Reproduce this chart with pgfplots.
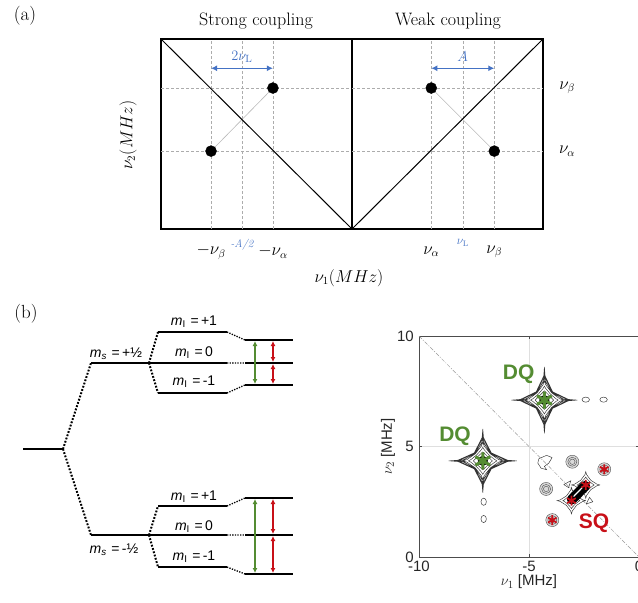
\documentclass[border=0pt]{standalone}
\usepackage{fontspec}
\usepackage{pgfplots}
\pgfplotsset{compat=1.18}
\usetikzlibrary{arrows.meta}
\newfontfamily\arial{Liberation Sans}
\definecolor{myblue}{RGB}{68,114,196}
\definecolor{mygreen}{RGB}{84,140,50}
\definecolor{myred}{RGB}{200,16,24}
\begin{document}
\begin{tikzpicture}
\path[use as bounding box] (0pt,0pt) rectangle (638pt,-603pt);
% ---------- global pixel frame: texts of (a) and the level diagram of (b)
\begin{axis}[at={(0pt,-603pt)},anchor=south west,scale only axis,width=638pt,height=603pt,
  xmin=0,xmax=638,ymin=0,ymax=603,y dir=reverse,hide axis,clip=false]
\node[font=\fontsize{19}{22}\selectfont] at (axis cs:25,16) {(a)};
\node[font=\fontsize{18}{21}\selectfont] at (axis cs:256,21) {Strong coupling};
\node[font=\fontsize{18}{21}\selectfont] at (axis cs:448,21) {Weak coupling};
\node[rotate=90,font=\fontsize{16}{19}\selectfont] at (axis cs:128,135) {$\nu_2(MHz)$};
\node[font=\fontsize{16}{19}\selectfont] at (axis cs:349,278) {$\nu_1(MHz)$};
\node[font=\fontsize{19}{22}\selectfont] at (axis cs:26,314) {(b)};
% energy levels
\addplot[black,line width=2pt,unbounded coords=jump] coordinates {
 (23,449)(63,449) (nan,nan) (91,363)(227,363) (nan,nan) (158,332)(227,332) (nan,nan)
 (158,393)(227,393) (nan,nan) (245,340)(293,340) (nan,nan) (245,363)(293,363) (nan,nan)
 (245,385)(293,385) (nan,nan) (91,535)(227,535) (nan,nan) (158,506)(227,506) (nan,nan)
 (158,567)(227,567) (nan,nan) (245,498)(293,498) (nan,nan) (245,535)(293,535) (nan,nan)
 (245,574)(293,574)};
% dotted connectors
\addplot[black,line width=2pt,dash pattern=on 1.8pt off 1.6pt,unbounded coords=jump] coordinates {
 (63,449)(91,363) (nan,nan) (63,449)(91,535) (nan,nan) (149,363)(158,332) (nan,nan)
 (149,363)(158,393) (nan,nan) (149,535)(158,506) (nan,nan) (149,535)(158,567)};
\addplot[black,line width=1.3pt,dash pattern=on 1.3pt off 1.3pt,unbounded coords=jump] coordinates {
 (227,332)(245,340) (nan,nan) (227,363)(245,363) (nan,nan) (227,393)(245,385) (nan,nan)
 (227,506)(245,498) (nan,nan) (227,535)(245,535) (nan,nan) (227,567)(245,574)};
% transitions
\addplot[mygreen,line width=1.5pt,arrows={Latex[length=5pt,width=5pt]-Latex[length=5pt,width=5pt]}] coordinates {(255,341)(255,384)};
\addplot[mygreen,line width=1.5pt,arrows={Latex[length=5pt,width=5pt]-Latex[length=5pt,width=5pt]}] coordinates {(255,499)(255,573)};
\addplot[myred,line width=1.5pt,arrows={Latex[length=5pt,width=5pt]-Latex[length=5pt,width=5pt]}] coordinates {(273,341)(273,362)};
\addplot[myred,line width=1.5pt,arrows={Latex[length=5pt,width=5pt]-Latex[length=5pt,width=5pt]}] coordinates {(273,364)(273,384)};
\addplot[myred,line width=1.5pt,arrows={Latex[length=5pt,width=5pt]-Latex[length=5pt,width=5pt]}] coordinates {(273,499)(273,534)};
\addplot[myred,line width=1.5pt,arrows={Latex[length=5pt,width=5pt]-Latex[length=5pt,width=5pt]}] coordinates {(273,536)(273,573)};
% level labels
\begin{scope}[every node/.style={font=\arial\fontsize{14}{16}\selectfont,inner sep=0pt}]
\node at (axis cs:194,322) {\textit{m}\textsubscript{I}\,\,=\,+1};
\node at (axis cs:194,353) {\textit{m}\textsubscript{I}\,\,=\,0};
\node at (axis cs:194,382) {\textit{m}\textsubscript{I}\,\,=\,-1};
\node at (axis cs:116,354) {\textit{m}\textsubscript{\textit{s}}\,\,=\,+½};
\node at (axis cs:194,497) {\textit{m}\textsubscript{I}\,\,=\,+1};
\node at (axis cs:194,527) {\textit{m}\textsubscript{I}\,\,=\,0};
\node at (axis cs:194,557) {\textit{m}\textsubscript{I}\,\,=\,-1};
\node at (axis cs:114,550) {\textit{m}\textsubscript{\textit{s}}\,\,=\,-½};
\end{scope}
\end{axis}
% ---------- (a) strong coupling
\begin{axis}[at={(161pt,-229pt)},anchor=south west,scale only axis,width=191pt,height=190pt,
  xmin=-1,xmax=0,ymin=0,ymax=1,xtick=\empty,ytick=\empty,axis line style={line width=1.6pt},clip=false]
\addplot[gray!65,line width=0.5pt,dash pattern=on 3pt off 2pt,unbounded coords=jump] coordinates {
 (-0.738,0)(-0.738,1) (nan,nan) (-0.576,0)(-0.576,1) (nan,nan) (-0.414,0)(-0.414,1) (nan,nan)
 (-1,0.742)(0,0.742) (nan,nan) (-1,0.41)(0,0.41)};
\addplot[gray!55,line width=0.6pt] coordinates {(-0.738,0.41)(-0.414,0.742)};
\addplot[black,line width=1pt] coordinates {(-1,1)(0,0)};
\addplot[only marks,mark=*,mark size=5.5pt,black] coordinates {(-0.414,0.742)(-0.738,0.41)};
\addplot[myblue,line width=1.3pt,arrows={Latex[length=6pt,width=6pt]-Latex[length=6pt,width=6pt]}] coordinates {(-0.738,0.846)(-0.414,0.846)};
\node[myblue,font=\fontsize{15}{18}\selectfont] at (axis cs:-0.576,0.905) {$2\nu_{\mathrm{L}}$};
\node[font=\fontsize{16}{19}\selectfont] at (axis cs:-0.738,-0.12) {$-\nu_\beta$};
\node[font=\fontsize{16}{19}\selectfont] at (axis cs:-0.414,-0.12) {$-\nu_\alpha$};
\node[myblue,font=\fontsize{11}{13}\selectfont] at (axis cs:-0.576,-0.085) {\itshape -A/2};
\end{axis}
% ---------- (a) weak coupling
\begin{axis}[at={(352pt,-229pt)},anchor=south west,scale only axis,width=191pt,height=190pt,
  xmin=0,xmax=1,ymin=0,ymax=1,xtick=\empty,ytick=\empty,axis line style={line width=1.6pt},clip=false]
\addplot[gray!65,line width=0.5pt,dash pattern=on 3pt off 2pt,unbounded coords=jump] coordinates {
 (0.415,0)(0.415,1) (nan,nan) (0.58,0)(0.58,1) (nan,nan) (0.745,0)(0.745,1) (nan,nan)
 (0,0.742)(1,0.742) (nan,nan) (0,0.41)(1,0.41)};
\addplot[gray!55,line width=0.6pt] coordinates {(0.415,0.742)(0.745,0.41)};
\addplot[black,line width=1pt] coordinates {(0,0)(1,1)};
\addplot[only marks,mark=*,mark size=5.5pt,black] coordinates {(0.415,0.742)(0.745,0.41)};
\addplot[myblue,line width=1.3pt,arrows={Latex[length=6pt,width=6pt]-Latex[length=6pt,width=6pt]}] coordinates {(0.415,0.846)(0.745,0.846)};
\node[myblue,font=\fontsize{15}{18}\selectfont] at (axis cs:0.58,0.905) {$A$};
\node[font=\fontsize{16}{19}\selectfont] at (axis cs:0.415,-0.12) {$\nu_\alpha$};
\node[font=\fontsize{16}{19}\selectfont] at (axis cs:0.745,-0.12) {$\nu_\beta$};
\node[myblue,font=\fontsize{12}{14}\selectfont] at (axis cs:0.58,-0.075) {$\nu_{\mathrm{L}}$};
\node[font=\fontsize{16}{19}\selectfont] at (axis cs:1.126,0.742) {$\nu_\beta$};
\node[font=\fontsize{16}{19}\selectfont] at (axis cs:1.126,0.41) {$\nu_\alpha$};
\end{axis}
% ---------- (b) HYSCORE contour plot
\begin{axis}[at={(419pt,-557pt)},anchor=south west,scale only axis,width=220pt,height=221pt,
  xmin=-10,xmax=0,ymin=0,ymax=10,xtick={-10,-5,0},ytick={0,5,10},
  xticklabels={-10,-5,0},yticklabels={0,5,10},
  grid=major,grid style={gray!25,line width=0.5pt},
  axis line style={gray!60!black,line width=0.6pt},tick style={gray!60!black},
  tick align=inside,major tick length=3pt,
  ticklabel style={font=\arial\fontsize{15}{17}\selectfont,text=black!85,inner sep=0pt},
  xticklabel style={yshift=-4pt},yticklabel style={xshift=-5pt},
  label style={font=\arial\fontsize{15}{17}\selectfont,text=black!85,inner sep=0pt},
  xlabel={$\nu_1$ [MHz]},ylabel={$\nu_2$ [MHz]},
  xlabel style={yshift=-3pt},ylabel style={yshift=2pt},
  clip=false]
\addplot[gray!80,line width=0.5pt,dash pattern=on 4pt off 1.5pt on 1pt off 1.5pt] coordinates {(-10,10)(0,0)};
% star contours
\addplot[black!80,line width=0.45pt,unbounded coords=jump] coordinates {
 (-2.8,7.1) (-3.207,7.132) (-3.925,7.475) (-4.268,8.193) (-4.3,8.6) (-4.332,8.193) (-4.675,7.475) (-5.393,7.132) (-5.8,7.1) (-5.393,7.068) (-4.675,6.725) (-4.332,6.007) (-4.3,5.6) (-4.268,6.007) (-3.925,6.725) (-3.207,7.068) (-2.8,7.1) (nan,nan)
 (-2.95,7.1) (-3.301,7.135) (-3.938,7.462) (-4.265,8.099) (-4.3,8.45) (-4.335,8.099) (-4.662,7.462) (-5.299,7.135) (-5.65,7.1) (-5.299,7.065) (-4.662,6.738) (-4.335,6.101) (-4.3,5.75) (-4.265,6.101) (-3.938,6.738) (-3.301,7.065) (-2.95,7.1) (nan,nan)
 (-3.13,7.1) (-3.42,7.137) (-3.964,7.436) (-4.263,7.98) (-4.3,8.27) (-4.337,7.98) (-4.636,7.436) (-5.18,7.137) (-5.47,7.1) (-5.18,7.063) (-4.636,6.764) (-4.337,6.22) (-4.3,5.93) (-4.263,6.22) (-3.964,6.764) (-3.42,7.063) (-3.13,7.1) (nan,nan)
 (-3.28,7.1) (-3.496,7.157) (-3.939,7.461) (-4.243,7.904) (-4.3,8.12) (-4.357,7.904) (-4.661,7.461) (-5.104,7.157) (-5.32,7.1) (-5.104,7.043) (-4.661,6.739) (-4.357,6.296) (-4.3,6.08) (-4.243,6.296) (-3.939,6.739) (-3.496,7.043) (-3.28,7.1) (nan,nan)
 (-3.43,7.1) (-3.603,7.159) (-3.97,7.43) (-4.241,7.797) (-4.3,7.97) (-4.359,7.797) (-4.63,7.43) (-4.997,7.159) (-5.17,7.1) (-4.997,7.041) (-4.63,6.77) (-4.359,6.403) (-4.3,6.23) (-4.241,6.403) (-3.97,6.77) (-3.603,7.041) (-3.43,7.1) (nan,nan)
 (-3.67,7.1) (-3.779,7.163) (-4.026,7.374) (-4.237,7.621) (-4.3,7.73) (-4.363,7.621) (-4.574,7.374) (-4.821,7.163) (-4.93,7.1) (-4.821,7.037) (-4.574,6.826) (-4.363,6.579) (-4.3,6.47) (-4.237,6.579) (-4.026,6.826) (-3.779,7.037) (-3.67,7.1) (nan,nan)
 (-3.88,7.1) (-3.941,7.161) (-4.09,7.31) (-4.239,7.459) (-4.3,7.52) (-4.361,7.459) (-4.51,7.31) (-4.659,7.161) (-4.72,7.1) (-4.659,7.039) (-4.51,6.89) (-4.361,6.741) (-4.3,6.68) (-4.239,6.741) (-4.09,6.89) (-3.941,7.039) (-3.88,7.1) (nan,nan)
 (-5.55,4.35) (-5.971,4.381) (-6.712,4.713) (-7.067,5.406) (-7.1,5.8) (-7.133,5.406) (-7.488,4.713) (-8.229,4.381) (-8.65,4.35) (-8.229,4.319) (-7.488,3.987) (-7.133,3.294) (-7.1,2.9) (-7.067,3.294) (-6.712,3.987) (-5.971,4.319) (-5.55,4.35) (nan,nan)
 (-5.705,4.35) (-6.067,4.384) (-6.726,4.7) (-7.064,5.316) (-7.1,5.655) (-7.136,5.316) (-7.474,4.7) (-8.133,4.384) (-8.495,4.35) (-8.133,4.316) (-7.474,4.0) (-7.136,3.384) (-7.1,3.045) (-7.064,3.384) (-6.726,4.0) (-6.067,4.316) (-5.705,4.35) (nan,nan)
 (-5.891,4.35) (-6.191,4.386) (-6.753,4.675) (-7.062,5.201) (-7.1,5.481) (-7.138,5.201) (-7.447,4.675) (-8.009,4.386) (-8.309,4.35) (-8.009,4.314) (-7.447,4.025) (-7.138,3.499) (-7.1,3.219) (-7.062,3.499) (-6.753,4.025) (-6.191,4.314) (-5.891,4.35) (nan,nan)
 (-6.046,4.35) (-6.269,4.405) (-6.727,4.699) (-7.041,5.128) (-7.1,5.336) (-7.159,5.128) (-7.473,4.699) (-7.931,4.405) (-8.154,4.35) (-7.931,4.295) (-7.473,4.001) (-7.159,3.572) (-7.1,3.364) (-7.041,3.572) (-6.727,4.001) (-6.269,4.295) (-6.046,4.35) (nan,nan)
 (-6.201,4.35) (-6.38,4.407) (-6.759,4.669) (-7.039,5.024) (-7.1,5.191) (-7.161,5.024) (-7.441,4.669) (-7.82,4.407) (-7.999,4.35) (-7.82,4.293) (-7.441,4.031) (-7.161,3.676) (-7.1,3.509) (-7.039,3.676) (-6.759,4.031) (-6.38,4.293) (-6.201,4.35) (nan,nan)
 (-6.449,4.35) (-6.562,4.411) (-6.817,4.615) (-7.035,4.854) (-7.1,4.959) (-7.165,4.854) (-7.383,4.615) (-7.638,4.411) (-7.751,4.35) (-7.638,4.289) (-7.383,4.085) (-7.165,3.846) (-7.1,3.741) (-7.035,3.846) (-6.817,4.085) (-6.562,4.289) (-6.449,4.35) (nan,nan)
 (-6.666,4.35) (-6.73,4.409) (-6.883,4.553) (-7.036,4.697) (-7.1,4.756) (-7.164,4.697) (-7.317,4.553) (-7.47,4.409) (-7.534,4.35) (-7.47,4.291) (-7.317,4.147) (-7.164,4.003) (-7.1,3.944) (-7.036,4.003) (-6.883,4.147) (-6.73,4.291) (-6.666,4.35) (nan,nan)
 (-2.42,2.55) (-2.557,2.584) (-2.84,2.762) (-3.034,3.023) (-3.07,3.15) (-3.106,3.023) (-3.3,2.762) (-3.583,2.584) (-3.72,2.55) (-3.583,2.516) (-3.3,2.338) (-3.106,2.077) (-3.07,1.95) (-3.034,2.077) (-2.84,2.338) (-2.557,2.516) (-2.42,2.55) (nan,nan)
 (-1.77,3.26) (-1.907,3.294) (-2.19,3.472) (-2.384,3.733) (-2.42,3.86) (-2.456,3.733) (-2.65,3.472) (-2.933,3.294) (-3.07,3.26) (-2.933,3.226) (-2.65,3.048) (-2.456,2.787) (-2.42,2.66) (-2.384,2.787) (-2.19,3.048) (-1.907,3.226) (-1.77,3.26) (nan,nan)
 (-2.68,2.55) (-2.747,2.586) (-2.9,2.707) (-3.031,2.848) (-3.07,2.91) (-3.109,2.848) (-3.24,2.707) (-3.393,2.586) (-3.46,2.55) (-3.393,2.514) (-3.24,2.393) (-3.109,2.252) (-3.07,2.19) (-3.031,2.252) (-2.9,2.393) (-2.747,2.514) (-2.68,2.55) (nan,nan)
 (-2.03,3.26) (-2.097,3.296) (-2.25,3.417) (-2.381,3.558) (-2.42,3.62) (-2.459,3.558) (-2.59,3.417) (-2.743,3.296) (-2.81,3.26) (-2.743,3.224) (-2.59,3.103) (-2.459,2.962) (-2.42,2.9) (-2.381,2.962) (-2.25,3.103) (-2.097,3.224) (-2.03,3.26) (nan,nan)
 (-4.55,4.45) (-4.2,4.6) (-3.95,4.5) (-4.1,4.25) (-4.3,4.1) (-4.2,3.95) (-4.45,4.02) (-4.6,4.25) (-4.55,4.45) (nan,nan)
 (-3.42,3.28) (-3.1,3.45) (-3.2,3.14) (-3.42,3.28) (nan,nan)
 (-2.4,2.4) (-2.1,2.5) (-2.25,2.7) (-2.4,2.4)};
% dense centres
\addplot[only marks,mark=*,mark size=4.8pt,black] coordinates {(-4.3,7.1)(-7.1,4.35)};
\addplot[black,line width=10pt,line cap=round] coordinates {(-3.05,2.6)(-2.45,3.22)};
\addplot[white,line width=1.2pt] coordinates {(-2.97,2.74)(-2.58,3.14)};
% small side contours
\addplot[only marks,mark=o,mark size=3pt,black!75,mark options={xscale=1.25,yscale=0.85,line width=0.5pt}] coordinates {(-2.42,7.12)(-1.61,7.12)};
\addplot[only marks,mark=o,mark size=3pt,black!75,mark options={xscale=0.9,yscale=1.2,line width=0.5pt}] coordinates {(-7.06,2.5)(-7.06,1.72)};
% SQ blobs
\addplot[only marks,mark=*,mark size=6.5pt,mark options={draw=black!70,fill=gray!30,line width=0.4pt}] coordinates {(-3.94,1.67)(-1.58,3.97)(-4.22,3.08)(-3.03,4.31)};
\addplot[only marks,mark=o,mark size=4.5pt,mark options={draw=black!70,line width=0.4pt}] coordinates {(-3.94,1.67)(-1.58,3.97)(-4.22,3.08)(-3.03,4.31)};
\addplot[only marks,mark=o,mark size=2.7pt,mark options={draw=black!70,line width=0.4pt}] coordinates {(-3.94,1.67)(-1.58,3.97)(-4.22,3.08)(-3.03,4.31)};
% stars
\addplot[only marks,mark=asterisk,mark size=8.5pt,mygreen,mark options={line width=3pt}] coordinates {(-4.3,7.1)(-7.1,4.35)};
\addplot[only marks,mark=asterisk,mark size=5pt,myred,mark options={line width=1.7pt}] coordinates {(-3.94,1.67)(-1.58,3.97)(-3.07,2.55)(-2.42,3.26)};
\node[mygreen,font=\arial\bfseries\fontsize{21}{24}\selectfont] at (axis cs:-5.47,8.28) {DQ};
\node[mygreen,font=\arial\bfseries\fontsize{21}{24}\selectfont] at (axis cs:-8.36,5.47) {DQ};
\node[myred,font=\arial\bfseries\fontsize{21}{24}\selectfont] at (axis cs:-2.04,1.52) {SQ};
\end{axis}
\end{tikzpicture}
\end{document}
